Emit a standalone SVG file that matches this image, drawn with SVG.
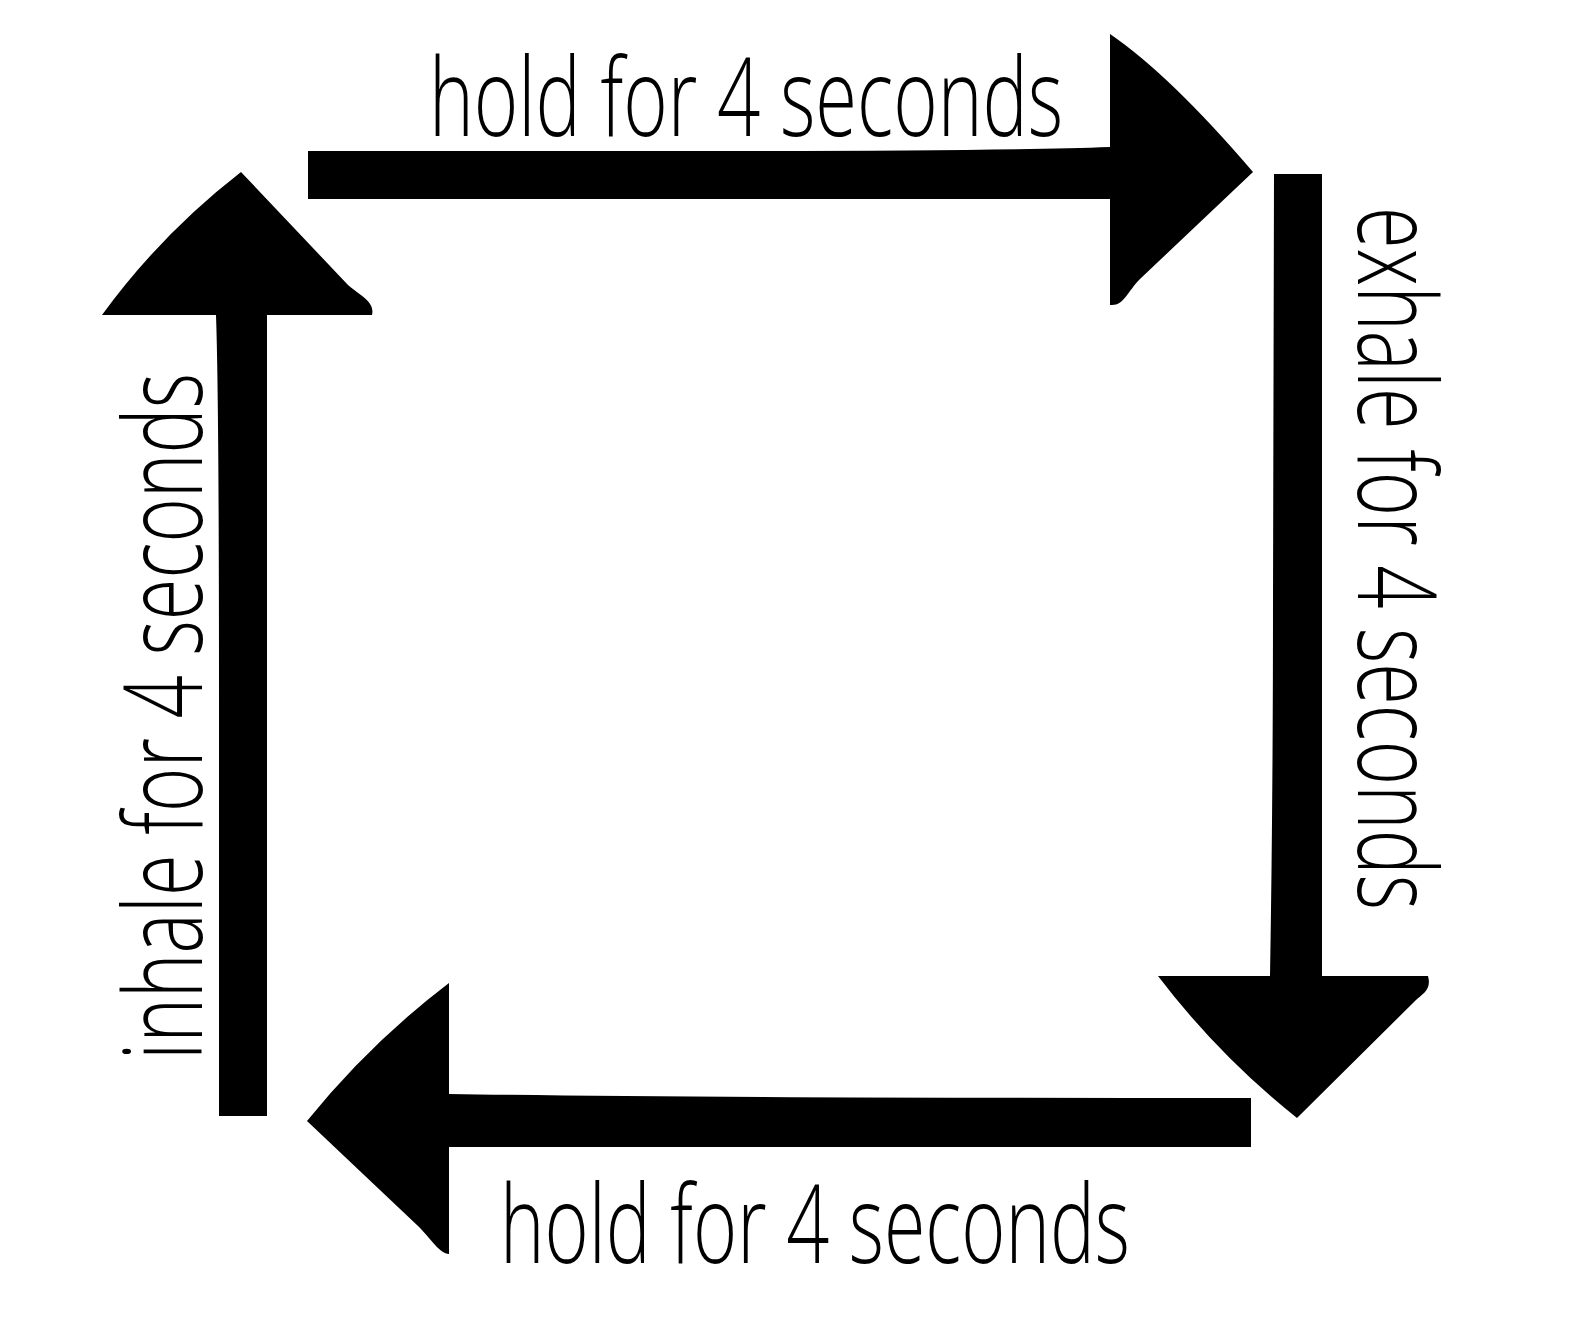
<svg xmlns="http://www.w3.org/2000/svg" width="1572" height="1322" viewBox="0 0 1572 1322">
<style>
.lbl{font-family:"Open Sans","Liberation Sans",sans-serif;font-size:108px;font-weight:300;fill:#000}
.arr{fill:#000;stroke:none}
</style>
<rect width="1572" height="1322" fill="#fff"/>
<g id="connectors">
<path id="arrow-top" class="arr" d="M 308 151 L 700 151 Q 1000 151 1110 147 L 1110 34 Q 1170 75 1253 172 L 1140 279 C 1128 291, 1124 305, 1112 305 L 1110 305 L 1110 199 L 308 199 Z"/>
<path id="arrow-right" class="arr" d="M 1274 174 L 1322 174 L 1322 976 L 1428 976 C 1432 990, 1422 994, 1416 1000 L 1297 1118 Q 1219 1056 1158 976 L 1270 976 Q 1273 800 1273 600 L 1274 174 Z"/>
<path id="arrow-bottom" class="arr" d="M 1251 1098 L 1251 1147 L 449 1147 L 449 1254 C 440 1254, 432 1240, 418 1226 L 307 1121 Q 370 1043 449 983 L 449 1094 Q 700 1098 1251 1098 Z"/>
<path id="arrow-left" class="arr" d="M 219 1116 L 219 700 Q 219 400 216 315 L 102 315 Q 161 234 241 172 L 348 285 C 362 297, 375 302, 372 315 L 267 315 L 267 1116 Z"/>
</g>
<g id="label-top"><text class="lbl" x="429" y="136" textLength="634" lengthAdjust="spacingAndGlyphs">hold for 4 seconds</text></g>
<g id="label-right"><text class="lbl" transform="translate(1358,207) rotate(90)" x="0" y="0" textLength="703" lengthAdjust="spacingAndGlyphs">exhale for 4 seconds</text></g>
<g id="label-bottom"><text class="lbl" x="500" y="1263" textLength="630" lengthAdjust="spacingAndGlyphs">hold for 4 seconds</text></g>
<g id="label-left"><text class="lbl" transform="translate(202,1060) rotate(-90)" x="0" y="0" textLength="687" lengthAdjust="spacingAndGlyphs">inhale for 4 seconds</text></g>
</svg>
